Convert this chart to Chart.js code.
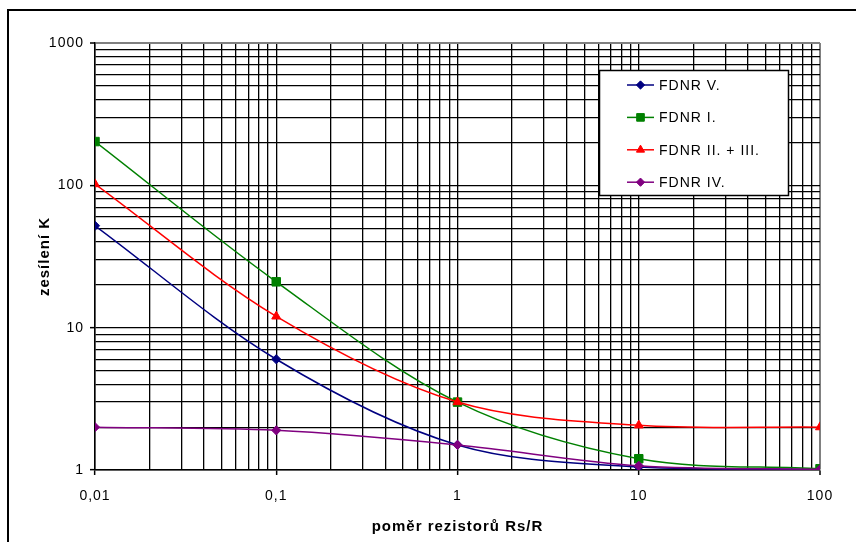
<!DOCTYPE html>
<html><head><meta charset="utf-8">
<script src="https://cdn.jsdelivr.net/npm/chart.js@4/dist/chart.umd.min.js"></script>
<style>html,body{margin:0;padding:0;background:#fff;} canvas{display:block;background:#fff;}</style>
</head><body>
<canvas id="c" width="856" height="542"></canvas>
<script>
// ---- data ----
const ratios = [0.01, 0.1, 1, 10, 100];
const fdnrV = [52, 6, 1.5, 1.05, 1.01];
const fdnrI = [203, 21, 3, 1.2, 1.02];
const fdnrIIIII = [102, 12, 3, 2.06, 2];
const fdnrIV = [2, 1.9, 1.5, 1.07, 1.01];
const seriesNames = ['FDNR V.', 'FDNR I.', 'FDNR II. + III.', 'FDNR IV.'];
const xTickValues = [0.01, 0.1, 1, 10, 100];
const xTickLabels = ['0,01', '0,1', '1', '10', '100'];
const yTickValues = [1, 10, 100, 1000];
const yTickLabels = ['1', '10', '100', '1000'];
const xTitle = 'poměr rezistorů Rs/R';
const yTitle = 'zesílení K';

// ---- styling ----
const FONT = "'Liberation Sans', Arial, sans-serif";
const colors = ['#000080', '#008000', '#FF0000', '#800080'];
const styles = ['rectRot', 'rect', 'triangle', 'rectRot'];
const radii = [4.6, 6, 5.2, 4.6];
const seriesValues = [fdnrV, fdnrI, fdnrIIIII, fdnrIV];

function idxOf(v, arr) {
  for (let i = 0; i < arr.length; i++) if (Math.abs(Math.log10(v) - Math.log10(arr[i])) < 1e-6) return i;
  return -1;
}
function logTicks(decades) {
  const out = [];
  for (let i = 0; i < decades.length - 1; i++)
    for (let m = 1; m < 10; m++) out.push({value: +(decades[i] * m).toPrecision(6)});
  out.push({value: decades[decades.length - 1]});
  return out;
}

const datasets = seriesValues.map((vals, s) => ({
  label: seriesNames[s],
  data: ratios.map((x, i) => ({x: x, y: vals[i]})),
  borderColor: colors[s],
  backgroundColor: colors[s],
  pointBackgroundColor: colors[s],
  pointBorderColor: colors[s],
  pointStyle: styles[s],
  pointRadius: radii[s],
  pointBorderWidth: 1,
  borderWidth: 1.5,
  tension: 0.33,
  fill: false,
  order: seriesValues.length - s
}));

const framePlugin = {
  id: 'frame',
  beforeUpdate(chart) { chart.ctx.letterSpacing = '1px'; },
  beforeDraw(chart) {
    const ctx = chart.ctx;
    ctx.letterSpacing = '1px';
    ctx.save();
    ctx.fillStyle = '#000';
    ctx.fillRect(7, 9, 849, 2);
    ctx.fillRect(7, 9, 2, 533);
    ctx.restore();
  },
  afterDraw(chart) {
    const ctx = chart.ctx;
    ctx.save();
    // legend box
    const bx = 599, by = 70, bw = 189, bh = 125;
    ctx.fillStyle = '#fff';
    ctx.fillRect(bx, by, bw, bh);
    ctx.strokeStyle = '#000';
    ctx.lineWidth = 1.5;
    ctx.strokeRect(bx + 0.5, by + 0.5, bw, bh);
    ctx.font = '14px ' + FONT;
    ctx.textBaseline = 'middle';
    ctx.textAlign = 'left';
    chart.data.datasets.forEach((ds, i) => {
      const y = 85 + i * 32.4;
      ctx.strokeStyle = ds.borderColor;
      ctx.lineWidth = 1.5;
      ctx.beginPath(); ctx.moveTo(627, y); ctx.lineTo(654, y); ctx.stroke();
      ctx.fillStyle = ds.backgroundColor;
      ctx.lineWidth = 1;
      Chart.helpers.drawPoint(ctx, {pointStyle: ds.pointStyle, radius: ds.pointRadius * 0.9, rotation: 0, borderWidth: 1}, 640.5, y);
      ctx.fillStyle = '#000';
      ctx.fillText(ds.label, 659, y + 1);
    });
    ctx.restore();
  }
};

function gridColor(edgeVal) {
  return (c) => (c.tick && Math.abs(c.tick.value - edgeVal) < 1e-9) ? '#808080' : '#000';
}
function gridWidth(edgeVal) {
  return (c) => (c.tick && Math.abs(c.tick.value - edgeVal) < 1e-9) ? 2 : 1.3;
}

new Chart(document.getElementById('c'), {
  type: 'line',
  data: {datasets: datasets},
  options: {
    responsive: false,
    animation: false,
    devicePixelRatio: 1,
    layout: {padding: {left: 0, top: 43, right: 36, bottom: 0}},
    plugins: {legend: {display: false}, tooltip: {enabled: false}},
    scales: {
      x: {
        type: 'logarithmic',
        min: 0.01, max: 100,
        afterBuildTicks: (s) => { s.ticks = logTicks(xTickValues); },
        afterFit: (s) => { s.height = 72; },
        ticks: {
          autoSkip: false, maxRotation: 0, minRotation: 0, padding: 13,
          color: '#000', font: {family: FONT, size: 14},
          callback: (v) => { const i = idxOf(v, xTickValues); return i >= 0 ? xTickLabels[i] : ''; }
        },
        grid: {
          color: gridColor(100), lineWidth: gridWidth(100), tickLength: 5,
          tickColor: (c) => (c.tick && idxOf(c.tick.value, xTickValues) >= 0) ? '#000' : 'rgba(0,0,0,0)',
          tickWidth: 1.5
        },
        border: {display: true, color: '#000', width: 1.5},
        title: {display: true, text: xTitle, color: '#000', font: {family: FONT, size: 15, weight: 'bold'}, padding: {top: 0, bottom: 6}}
      },
      y: {
        type: 'logarithmic',
        min: 1, max: 1000,
        afterBuildTicks: (s) => { s.ticks = logTicks(yTickValues); },
        afterFit: (s) => { s.width = 95; },
        ticks: {
          autoSkip: false, padding: 6,
          color: '#000', font: {family: FONT, size: 14},
          callback: (v) => { const i = idxOf(v, yTickValues); return i >= 0 ? yTickLabels[i] : ''; }
        },
        grid: {
          color: gridColor(1000), lineWidth: gridWidth(1000), tickLength: 5,
          tickColor: (c) => (c.tick && idxOf(c.tick.value, yTickValues) >= 0) ? '#000' : 'rgba(0,0,0,0)',
          tickWidth: 1.5
        },
        border: {display: true, color: '#000', width: 1.5},
        title: {display: true, text: yTitle, color: '#000', font: {family: FONT, size: 15, weight: 'bold'}, padding: {top: 36, bottom: 0}}
      }
    }
  },
  plugins: [framePlugin]
});
</script>
</body></html>
